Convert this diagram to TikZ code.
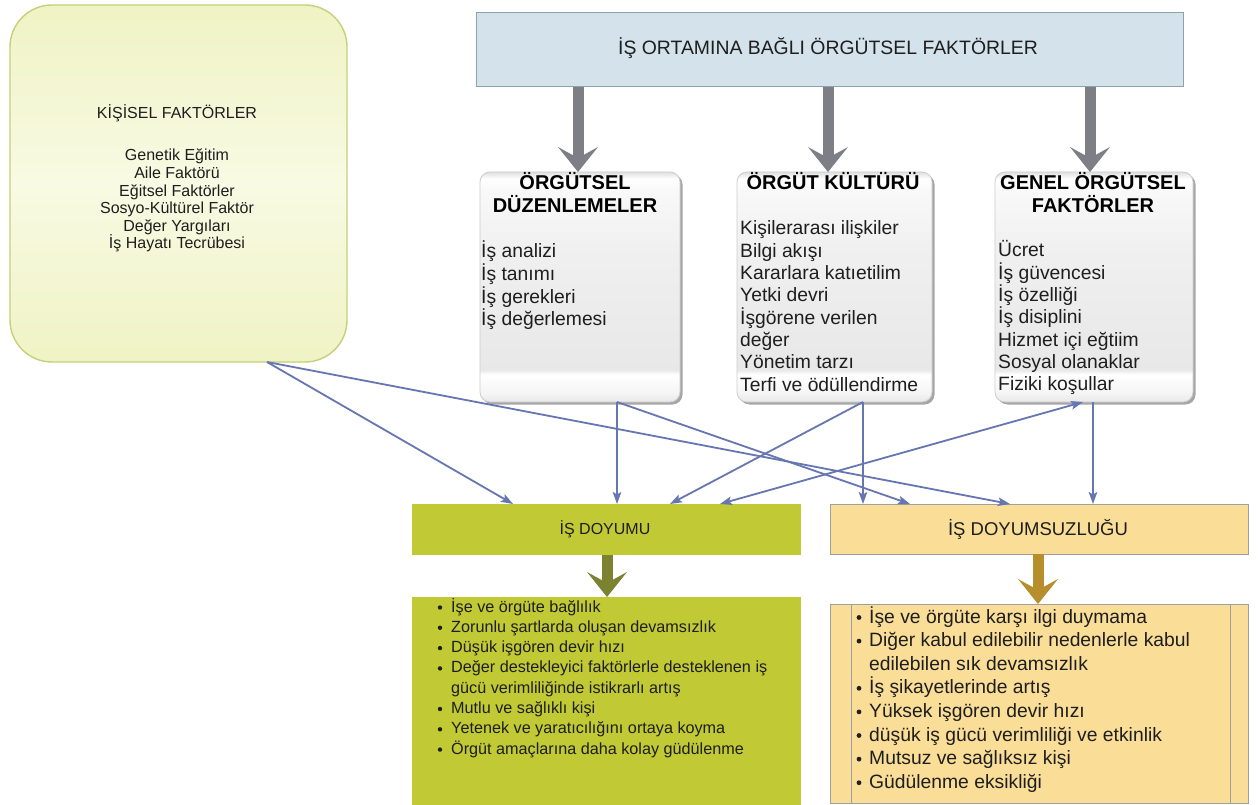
\documentclass[tikz,border=0pt]{standalone}
\usepackage{fontspec}
\setmainfont{Liberation Sans}
\usetikzlibrary{arrows.meta,shadows}

\definecolor{kisiselust}{HTML}{EFF3C4}
\definecolor{kisiselorta}{HTML}{F8FAE3}
\definecolor{kisiselcizgi}{HTML}{C6D07A}
\definecolor{bantmavi}{HTML}{D4E3EB}
\definecolor{bantcizgi}{HTML}{8FA2AC}
\definecolor{okgri}{HTML}{7E7F86}
\definecolor{okmavi}{HTML}{6676B0}
\definecolor{doyumyesil}{HTML}{C1C935}
\definecolor{okzeytin}{HTML}{7D8233}
\definecolor{doyumsari}{HTML}{FADE98}
\definecolor{okaltin}{HTML}{B68E2B}
\definecolor{yazi}{HTML}{1E1E1E}

\pgfdeclareverticalshading{grikutu}{100bp}{color(0bp)=(gray!18); color(25bp)=(gray!18);
  color(27bp)=(gray!8); color(31bp)=(white); color(32bp)=(gray!18); color(58bp)=(gray!12);
  color(71bp)=(gray!5); color(73.5bp)=(white); color(75bp)=(gray!25); color(100bp)=(gray!25)}

\tikzset{
  kutu/.style={anchor=north west, inner sep=0pt, outer sep=0pt},
  gri kutu/.style={kutu, rounded corners=10pt, draw=gray!40, line width=0.8pt, shading=grikutu,
    drop shadow={shadow xshift=2.5pt, shadow yshift=-2.5pt, opacity=0.35, fill=black}},
  baslik/.style={font=\fontsize{20}{23}\selectfont\bfseries, text=black, inner sep=0pt, anchor=base, align=center},
  madde/.style={font=\fontsize{19.3}{22}\selectfont, text=yazi, inner sep=0pt, anchor=base west},
  kalin ok/.style={draw=#1, line width=11pt, -{Stealth[length=25pt, width=40pt, inset=11pt, line width=0pt]}},
  mavi ok/.style={draw=okmavi, line width=1.8pt, -{Stealth[length=12pt, width=8.5pt, inset=2.5pt]}},
  mavi cift/.style={draw=okmavi, line width=1.8pt,
    {Stealth[length=12pt, width=8.5pt, inset=2.5pt]}-{Stealth[length=12pt, width=8.5pt, inset=2.5pt]}}
}

\begin{document}
\begin{tikzpicture}[x=1pt, y=-1pt]
  \useasboundingbox[fill=white] (0,0) rectangle (1259,805);

  % Kisisel faktorler
  \node[kutu, minimum width=337pt, minimum height=357pt, rounded corners=42pt, draw=kisiselcizgi,
    line width=1.4pt, top color=kisiselust, bottom color=kisiselust, middle color=kisiselorta]
    (kisisel) at (10,5) {};
  \node[font=\fontsize{16}{19}\selectfont, text=yazi, inner sep=0pt, anchor=base] (kisisel-b) at (177,119) {KİŞİSEL FAKTÖRLER};
  \foreach \satir [count=\i] in {Genetik Eğitim, Aile Faktörü, Eğitsel Faktörler, Sosyo-Kültürel Faktör, Değer Yargıları, İş Hayatı Tecrübesi}
    \node[font=\fontsize{16}{19}\selectfont, text=yazi, inner sep=0pt, anchor=base] (kisisel-\i) at (177,{161+17.6*(\i-1)}) {\satir};

  % Ust bant
  \node[kutu, minimum width=707pt, minimum height=74pt, fill=bantmavi, draw=bantcizgi, line width=1pt]
    (bant) at (476,13) {};
  \node[font=\fontsize{19.4}{22}\selectfont, text=yazi, inner sep=0pt] (bant-y) at (828,48) {İŞ ORTAMINA BAĞLI ÖRGÜTSEL FAKTÖRLER};

  % Orta kutular
  \node[gri kutu, minimum width=200pt, minimum height=230pt] (od) at (480,172) {};
  \node[gri kutu, minimum width=195pt, minimum height=230pt] (ok) at (737,172) {};
  \node[gri kutu, minimum width=198pt, minimum height=230pt] (gf) at (995,172) {};

  % Kalin gri oklar
  \draw[kalin ok=okgri] (578,0 |- bant.south) -- (578,0 |- od.north);
  \draw[kalin ok=okgri] (828,0 |- bant.south) -- (828,0 |- ok.north);
  \draw[kalin ok=okgri] (1090,0 |- bant.south) -- (1090,0 |- gf.north);

  % Orgutsel duzenlemeler
  \node[baslik] (od-b) at (575,213) {ÖRGÜTSEL\\DÜZENLEMELER};
  \foreach \satir [count=\i] in {İş analizi, İş tanımı, İş gerekleri, İş değerlemesi}
    \node[madde] (od-\i) at (481,{258+22.5*(\i-1)}) {\satir};

  % Orgut kulturu
  \node[baslik] (ok-b) at (833,190) {ÖRGÜT KÜLTÜRÜ};
  \foreach \satir [count=\i] in {Kişilerarası ilişkiler, Bilgi akışı, Kararlara katıetilim, Yetki devri,
      İşgörene verilen, değer, Yönetim tarzı, Terfi ve ödüllendirme}
    \node[madde] (ok-\i) at (740,{235+22.3*(\i-1)}) {\satir};

  % Genel orgutsel faktorler
  \node[baslik] (gf-b) at (1093,213) {GENEL ÖRGÜTSEL\\FAKTÖRLER};
  \foreach \satir [count=\i] in {Ücret, İş güvencesi, İş özelliği, İş disiplini, Hizmet içi eğtiim,
      Sosyal olanaklar, Fiziki koşullar}
    \node[madde] (gf-\i) at (998,{257+22.3*(\i-1)}) {\satir};

  % Is doyumu / doyumsuzlugu
  \node[kutu, minimum width=389pt, minimum height=51pt, fill=doyumyesil] (doyum) at (412,504) {};
  \node[font=\fontsize{16}{19}\selectfont, text=yazi, inner sep=0pt] (doyum-y) at (605,529) {İŞ DOYUMU};
  \node[kutu, minimum width=418pt, minimum height=50pt, fill=doyumsari, draw=gray!75, line width=1pt] (doyumsuz) at (830,504) {};
  \node[font=\fontsize{18.5}{22}\selectfont, text=yazi, inner sep=0pt] (doyumsuz-y) at (1038,529) {İŞ DOYUMSUZLUĞU};

  % Ince mavi oklar
  \draw[mavi ok] (267,0 |- kisisel.south) -- (513,0 |- doyum.north);
  \draw[mavi ok] (267,0 |- kisisel.south) -- (1010,0 |- doyumsuz.north);
  \draw[mavi ok] (617,0 |- od.south) -- (617,0 |- doyum.north);
  \draw[mavi ok] (617,0 |- od.south) -- (910,0 |- doyumsuz.north);
  \draw[mavi ok] (863,0 |- ok.south) -- (670,0 |- doyum.north);
  \draw[mavi ok] (863,0 |- ok.south) -- (863,0 |- doyumsuz.north);
  \draw[mavi ok] (1093,0 |- gf.south) -- (1093,0 |- doyumsuz.north);
  \draw[mavi cift] (720,0 |- doyum.north) -- (1083,0 |- gf.south);

  % Alt listeler
  \node[kutu, minimum width=389pt, minimum height=208pt, fill=doyumyesil] (liste1) at (412,597) {};
  \node[kutu, minimum width=418pt, minimum height=199pt, fill=doyumsari, draw=gray!75, line width=1pt] (liste2) at (830,604) {};
  \draw[gray!75, line width=1pt] (851,0 |- liste2.north) -- (851,0 |- liste2.south);
  \draw[gray!75, line width=1pt] (1230,0 |- liste2.north) -- (1230,0 |- liste2.south);

  \draw[kalin ok=okzeytin] (607,0 |- doyum.south) -- (607,0 |- liste1.north);
  \draw[kalin ok=okaltin] (1038,0 |- doyumsuz.south) -- (1038,0 |- liste2.north);

  \foreach \satir [count=\i] in {İşe ve örgüte bağlılık, Zorunlu şartlarda oluşan devamsızlık, Düşük işgören devir hızı,
      Değer destekleyici faktörlerle desteklenen iş, gücü verimliliğinde istikrarlı artış, Mutlu ve sağlıklı kişi,
      Yetenek ve yaratıcılığını ortaya koyma, Örgüt amaçlarına daha kolay güdülenme}
    \node[font=\fontsize{16.2}{20}\selectfont, text=yazi, inner sep=0pt, anchor=base west] (l1-\i) at (451,{612+20.3*(\i-1)}) {\satir};
  \foreach \i in {1,2,3,4,6,7,8}
    \fill[yazi] (440,{607.5+20.3*(\i-1)}) circle (2.2pt);

  \foreach \satir [count=\i] in {İşe ve örgüte karşı ilgi duymama, Diğer kabul edilebilir nedenlerle kabul,
      edilebilen sık devamsızlık, İş şikayetlerinde artış, Yüksek işgören devir hızı,
      düşük iş gücü verimliliği ve etkinlik, Mutsuz ve sağlıksız kişi, Güdülenme eksikliği}
    \node[madde] (l2-\i) at (869,{623+23.6*(\i-1)}) {\satir};
  \foreach \i in {1,2,4,5,6,7,8}
    \fill[yazi] (859,{617.5+23.6*(\i-1)}) circle (2.4pt);
\end{tikzpicture}
\end{document}
